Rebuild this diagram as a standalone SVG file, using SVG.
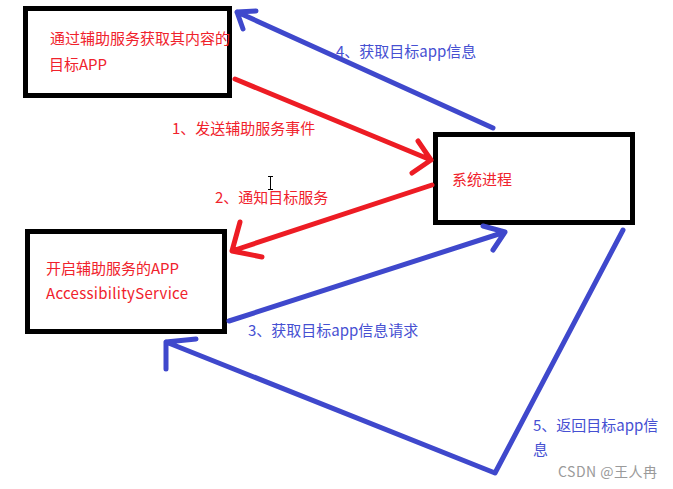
<svg xmlns="http://www.w3.org/2000/svg" width="673" height="489" viewBox="0 0 673 489">
<style>
.box{fill:#fff;stroke:#000;stroke-width:5}
.t{font-family:"Noto Sans CJK SC","Microsoft YaHei","Liberation Sans",sans-serif;font-size:15px}
.red{fill:#f0222c}
.blue{fill:#4650d2}
.lr{fill:none;stroke:#ed1c24;stroke-width:5;stroke-linecap:round;stroke-linejoin:round}
.lb{fill:none;stroke:#3f48cc;stroke-width:5;stroke-linecap:round;stroke-linejoin:round}
</style>
<rect width="673" height="489" fill="#fff"/>
<g id="target-app">
<rect class="box" x="25.5" y="8.5" width="204" height="87"/>
<text class="t red" x="50" y="44">通过辅助服务获取其内容的</text>
<text class="t red" x="49" y="70">目标APP</text>
</g>
<g id="system-process">
<rect class="box" x="435.5" y="134.5" width="197" height="88"/>
<text class="t red" x="452" y="185">系统进程</text>
</g>
<g id="accessibility-app">
<rect class="box" x="27.5" y="231.5" width="197" height="100"/>
<text class="t red" x="46" y="274">开启辅助服务的APP</text>
<text class="t red" x="46" y="299" textLength="142">AccessibilityService</text>
</g>
<g id="connectors">
<path class="lr" d="M235 79 L431 160 M418 141 L431 160 L412 173"/>
<path class="lr" d="M432 185 L232 251 M240 222 L232 251 L262 257"/>
<path class="lb" d="M493 128 L237 12 M256 11 L237 12 L243 29"/>
<path class="lb" d="M229 321 L505 232 M483 226 L505 232 L493 250"/>
<path class="lb" d="M623 230 L495 473 L166 342 M196 339 L166 342 L166 369"/>
</g>
<g id="labels">
<text class="t red" x="172" y="134">1、发送辅助服务事件</text>
<text class="t red" x="215" y="203">2、通知目标服务</text>
<text class="t blue" x="336" y="57">4、获取目标app信息</text>
<text class="t blue" x="248" y="336">3、获取目标app信息请求</text>
<text class="t blue" x="533" y="431">5、返回目标app信</text>
<text class="t blue" x="533" y="455">息</text>
</g>
<path d="M268 176.5 H273 M270.5 176.5 V189.5 M268 189.5 H273" stroke="#000" stroke-width="1" fill="none"/>
<text x="558" y="477" font-family="Noto Sans CJK SC,Liberation Sans,sans-serif" font-size="14" fill="#9a9a9a" textLength="99">CSDN @王人冉</text>
</svg>
